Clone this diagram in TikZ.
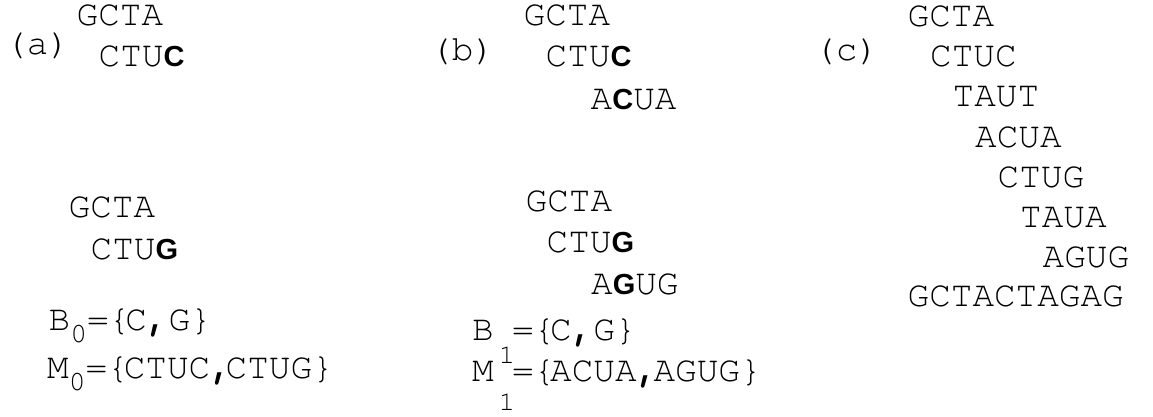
\documentclass[tikz,border=0pt]{standalone}
\usepackage{fontspec}
\setmonofont{TeX Gyre Cursor}
\newfontfamily\nucfont{Liberation Sans}
% highlighted base, subscript index and set separator
\newcommand{\nuc}[1]{{\nucfont\bfseries\fontsize{29}{29}\selectfont #1}}
\newcommand{\idx}[3]{\raisebox{-#1pt}{\fontsize{#2}{#2}\selectfont #3}}
\newcommand{\sep}[1]{\makebox[#1pt][l]{\bfseries ,}}

\begin{document}
\begin{tikzpicture}[x=1pt,y=-1pt,
  seq/.style={anchor=base west,inner sep=0pt,font=\ttfamily\fontsize{36}{36}\selectfont}]
  \useasboundingbox (0,0) rectangle (1153,417);

  % (a) two reads ending in C or G
  \node[seq] (laba) at (5,55) {(a)};
  \node[seq] (a1) at (76.5,26) {GCTA};
  \node[seq] (a2) at (98.5,67) {CTU\nuc{C}};
  \node[seq] (a3) at (68.5,217) {GCTA};
  \node[seq] (a4) at (90.5,259) {CTU\nuc{G}};
  \node[seq] (a5) at (48.5,330) {B\idx{12}{28}{0}=\{\kern-5pt C\sep{21.6}G\}};
  \node[seq] (a6) at (47,378) {M\idx{12}{28}{0}=\{\kern-5pt CTUC\sep{15.5}CTUG\}};

  % (b) one step further
  \node[seq] (labb) at (430,61) {(b)};
  \node[seq] (b1) at (523.5,26) {GCTA};
  \node[seq] (b2) at (545.5,67) {CTU\nuc{C}};
  \node[seq] (b3) at (590.5,110) {A\nuc{C}UA};
  \node[seq] (b4) at (525.5,211) {GCTA};
  \node[seq] (b5) at (546.5,252) {CTU\nuc{G}};
  \node[seq] (b6) at (591,294) {A\nuc{G}UG};
  \node[seq] (b7) at (472,340) {B\kern5pt\idx{23}{27}{1}\kern-3pt=\{\kern-5pt C\sep{21.5}G\}};
  \node[seq] (b8) at (472,381) {M\kern5pt\idx{29}{27}{1}\kern-3pt=\{\kern-5pt ACUA\sep{17}AGUG\}};

  % (c) full overlap chain
  \node[seq] (labc) at (814,61) {(c)};
  \foreach \s [count=\i] in {GCTA,CTUC,TAUT,ACUA,CTUG,TAUA,AGUG}
    \node[seq] (c\i) at ({907.5+22.5*(\i-1)},{27+40*(\i-1)}) {\s};
  \node[seq] (c8) at (907.5,306) {GCTACTAGAG};
\end{tikzpicture}
\end{document}
